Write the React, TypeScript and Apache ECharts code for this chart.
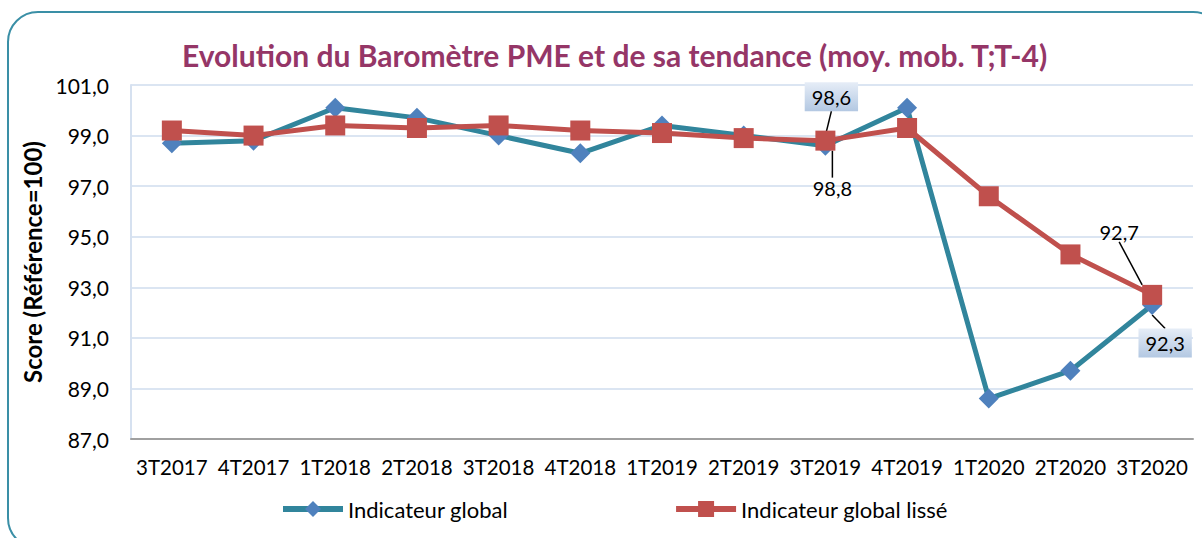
import React, { useEffect, useRef } from "react";
import * as echarts from "echarts";

const categories = ["3T2017", "4T2017", "1T2018", "2T2018", "3T2018", "4T2018", "1T2019", "2T2019", "3T2019", "4T2019", "1T2020", "2T2020", "3T2020"];
const indicateurGlobal = [98.7, 98.8, 100.1, 99.7, 99.0, 98.3, 99.4, 99.0, 98.6, 100.1, 88.6, 89.7, 92.3];
const indicateurLisse = [99.2, 99.0, 99.4, 99.3, 99.4, 99.2, 99.1, 98.9, 98.8, 99.3, 96.6, 94.3, 92.7];
const yTicks = [87, 89, 91, 93, 95, 97, 99, 101];

const FONT = "Lato, 'Open Sans', sans-serif";
const fmt = (v: number) => v.toFixed(1).replace(".", ",");

// label offsets (dx, dy) per series/index
const blueLabelIdx: Record<number, [number, number]> = { 8: [6, -49], 12: [13, 38] };
const redLabelIdx: Record<number, [number, number]> = { 8: [7, 47], 12: [-33, -63] };

const boxLabel = {
  show: true,
  position: "inside",
  formatter: (p: any) => fmt(p.value),
  color: "#000",
  fontSize: 20,
  fontFamily: FONT,
  padding: [5, 7, 4, 7],
  backgroundColor: {
    type: "linear", x: 0, y: 0, x2: 0, y2: 1,
    colorStops: [{ offset: 0, color: "#e6edf7" }, { offset: 1, color: "#b3c8e2" }],
  },
};
const plainLabel = {
  show: true,
  position: "inside",
  formatter: (p: any) => fmt(p.value),
  color: "#000",
  fontSize: 20,
  fontFamily: FONT,
};

export default function App() {
  const ref = useRef<HTMLDivElement>(null);
  useEffect(() => {
    if (!ref.current) return;
    const chart = echarts.init(ref.current, null, { renderer: "svg" });
    const blueData = indicateurGlobal.map((v, i) =>
      blueLabelIdx[i] ? { value: v, label: boxLabel, labelLine: { show: true, lineStyle: { color: "#000", width: 1.5 } } } : v
    );
    const redData = indicateurLisse.map((v, i) =>
      redLabelIdx[i] ? { value: v, label: plainLabel, labelLine: { show: true, lineStyle: { color: "#000", width: 1.5 } } } : v
    );
    chart.setOption({
      animation: false,
      backgroundColor: "#fff",
      title: {
        text: "Evolution du Baromètre PME et de sa tendance (moy. mob. T;T-4)",
        left: 177,
        top: 35,
        textStyle: { fontFamily: FONT, fontSize: 30, fontWeight: "bold", color: "#953667" },
      },
      graphic: [
        {
          type: "rect",
          shape: { x: 8, y: 12, width: 1215, height: 536, r: 30 },
          style: { fill: "none", stroke: "#3a8fa6", lineWidth: 2 },
          z: -1,
          silent: true,
        },
      ],
      legend: {
        left: 275,
        top: 493,
        itemWidth: 60,
        itemHeight: 20,
        itemGap: 165,
        lineStyle: { width: 6 },
        textStyle: { fontFamily: FONT, fontSize: 22, color: "#000" },
        data: ["Indicateur global", "Indicateur global lissé"],
      },
      grid: { left: 131, right: 9, top: 85, bottom: 99 },
      xAxis: {
        type: "category",
        data: categories,
        boundaryGap: true,
        axisLine: { lineStyle: { color: "#a0a0a0", width: 2 } },
        axisTick: { show: false },
        axisLabel: { fontFamily: FONT, fontSize: 20.5, color: "#000", margin: 17, interval: 0 },
      },
      yAxis: {
        type: "value",
        min: yTicks[0],
        max: yTicks[yTicks.length - 1],
        interval: 2,
        name: "Score (Référence=100)",
        nameLocation: "middle",
        nameGap: 86,
        nameTextStyle: { fontFamily: FONT, fontSize: 24, fontWeight: "bold", color: "#000" },
        axisLine: { show: true, lineStyle: { color: "#d6e1f0", width: 2 } },
        axisTick: { show: false },
        axisLabel: { fontFamily: FONT, fontSize: 21, color: "#000", margin: 22, formatter: (v: number) => fmt(v) },
        splitLine: { lineStyle: { color: "#dbe5f2", width: 2 } },
      },
      series: [
        {
          name: "Indicateur global",
          type: "line",
          data: blueData,
          symbol: "diamond",
          symbolSize: 20,
          lineStyle: { color: "#31859c", width: 5 },
          itemStyle: { color: "#4f81bd" },
          z: 2,
          labelLayout: (p: any) => {
            const o = blueLabelIdx[p.dataIndex];
            return o ? { dx: o[0], dy: o[1] } : {};
          },
        },
        {
          name: "Indicateur global lissé",
          type: "line",
          data: redData,
          symbol: "rect",
          symbolSize: 20,
          lineStyle: { color: "#c0504d", width: 5 },
          itemStyle: { color: "#c0504d" },
          z: 3,
          labelLayout: (p: any) => {
            const o = redLabelIdx[p.dataIndex];
            return o ? { dx: o[0], dy: o[1] } : {};
          },
        },
      ],
    });
    return () => chart.dispose();
  }, []);
  return <div ref={ref} style={{ position: "absolute", left: 0, top: 0, width: 1202, height: 538 }} />;
}
